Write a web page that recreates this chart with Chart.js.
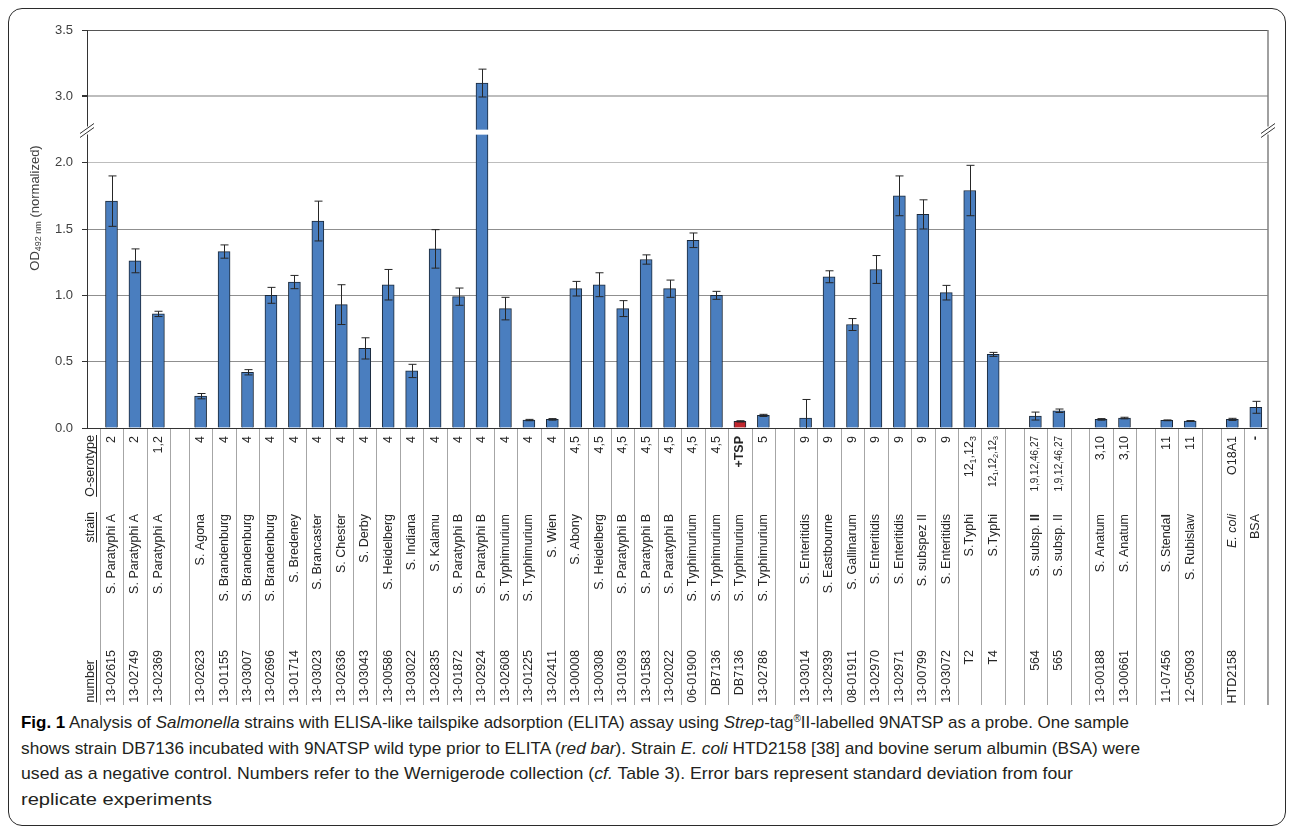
<!DOCTYPE html>
<html>
<head>
<meta charset="utf-8">
<script src="https://cdn.jsdelivr.net/npm/chart.js@4.4.1/dist/chart.umd.min.js"></script>
<style>
body{margin:0;background:#fff;width:1293px;height:831px;position:relative;overflow:hidden}
#frame{position:absolute;left:8px;top:8px;width:1278px;height:818px;border:1.5px solid #2b2b2b;border-radius:14px;box-sizing:border-box}
#chart{position:absolute;left:0;top:0}
.cap{position:absolute;left:21px;white-space:nowrap;font-family:"Liberation Sans Narrow","Liberation Sans",Arial,sans-serif;font-size:17px;line-height:20px;color:#231f20;transform-origin:0 0}
.cap b{color:#000}
.r{font-size:10px;position:relative;top:-6px}
</style>
</head>
<body>

<div id="frame"></div>
<canvas id="chart" width="1293" height="712"></canvas>

<div class="cap" data-w="1108" style="top:713px"><b>Fig. 1</b> Analysis of <i>Salmonella</i> strains with ELISA-like tailspike adsorption (ELITA) assay using <i>Strep</i>-tag<span class="r">®</span>II-labelled 9NATSP as a probe. One sample</div>
<div class="cap" data-w="1119" style="top:739px">shows strain DB7136 incubated with 9NATSP wild type prior to ELITA (<i>red bar</i>). Strain <i>E. coli</i> HTD2158 [38] and bovine serum albumin (BSA) were</div>
<div class="cap" data-w="1052" style="top:764px">used as a negative control. Numbers refer to the Wernigerode collection (<i>cf.</i> Table 3). Error bars represent standard deviation from four</div>
<div class="cap" data-w="191" style="top:790px">replicate experiments</div>

<script>

// strain collection numbers, one per bar
let numbers=["13-02615","13-02749","13-02369",
"13-02623","13-01155","13-03007","13-02696","13-01714","13-03023","13-02636","13-03043","13-00586","13-03022","13-02835","13-01872","13-02924","13-02608","13-01225","13-02411","13-00008","13-00308","13-01093","13-01583","13-02022","06-01900","DB7136","DB7136","13-02786",
"13-03014","13-02939","08-01911","13-02970","13-02971","13-00799","13-03072","T2","T4",
"564","565",
"13-00188","13-00661",
"11-07456","12-05093",
"HTD2158",""];

// * = bold, ~ = italic, _x = subscript
let strains=["S. Paratyphi A","S. Paratyphi A","S. Paratyphi A",
"S. Agona","S. Brandenburg","S. Brandenburg","S. Brandenburg","S. Bredeney","S. Brancaster","S. Chester","S. Derby","S. Heidelberg","S. Indiana","S. Kalamu","S. Paratyphi B","S. Paratyphi B","S. Typhimurium","S. Typhimurium","S. Wien","S. Abony","S. Heidelberg","S. Paratyphi B","S. Paratyphi B","S. Paratyphi B","S. Typhimurium","S. Typhimurium","S. Typhimurium","S. Typhimurium",
"S. Enteritidis","S. Eastbourne","S. Gallinarum","S. Enteritidis","S. Enteritidis","S. subspez II","S. Enteritidis","S.Typhi","S.Typhi",
"S. subsp. *II*","S. subsp. II",
"S. Anatum","S. Anatum",
"S. Stenda*l*","S. Rubislaw",
"~E. coli~","BSA"];

let serotypes=["2","2","1,2",
"4","4","4","4","4","4","4","4","4","4","4","4","4","4","4","4","4,5","4,5","4,5","4,5","4,5","4,5","4,5","*+TSP*","5",
"9","9","9","9","9","9","9","12_1,12_3","12_1,12_2,12_3",
"1,9,12,46,27","1,9,12,46,27",
"3,10","3,10",
"11","11",
"O18A1","*-*"];

// OD492 nm (normalized), mean and standard deviation
let od=[1.71,1.26,0.86,
0.24,1.33,0.42,1.00,1.10,1.56,0.93,0.60,1.08,0.43,1.35,0.99,3.10,0.90,0.06,0.065,1.05,1.08,0.90,1.27,1.05,1.415,1.00,0.05,0.095,
0.075,1.14,0.78,1.195,1.75,1.61,1.02,1.79,0.555,
0.09,0.13,
0.065,0.075,
0.058,0.053,
0.065,0.156];

let sd=[0.19,0.09,0.02,
0.02,0.05,0.02,0.06,0.05,0.15,0.15,0.08,0.115,0.05,0.145,0.065,0.105,0.085,0.005,0.006,0.055,0.09,0.06,0.035,0.065,0.055,0.03,0.005,0.008,
0.14,0.045,0.045,0.105,0.15,0.11,0.055,0.19,0.015,
0.03,0.013,
0.006,0.006,
0.003,0.003,
0.008,0.045];

let groupSizes=[3,25,9,2,2,2,2];

let yTickLabels=["0.0","0.5","1.0","1.5","2.0","3.0","3.5"];

const FONT="'Liberation Sans', Arial, sans-serif";

// the axis skips 2.25..2.75, so values above the break move down by 0.5
function toAxis(v){
return v>2.5 ? v-0.5 : v;
}

// bar slots: one unit per bar, a narrower empty column between groups
let slots=[];
let p=0;
groupSizes.forEach(function(n,g){
if(g>0) p+=0.8;
for(let k=0;k<n;k++){ slots.push(p); p+=1; }
});

let points=od.map(function(v,i){ return {x:slots[i],y:toAxis(v)}; });
let barColors=serotypes.map(function(s){ return s==="*+TSP*" ? "#c1272d" : "#4a7ebf"; });

function drawVertical(ctx,str,x,yEnd,size,align){
let runs=[],bold=false,ital=false;
for(let k=0;k<str.length;k++){
let c=str[k];
if(c==="*"){bold=!bold;continue;}
if(c==="~"){ital=!ital;continue;}
let sub=false;
if(c==="_"){sub=true;k++;c=str[k];}
runs.push({c:c,bold:bold,ital:ital,sub:sub});
}
let font=function(r){
return (r.ital?"italic ":"")+(r.bold?"bold ":"")+(r.sub?size*0.72:size)+"px "+FONT;
};
ctx.save();
ctx.translate(x,yEnd);
ctx.rotate(-Math.PI/2);
ctx.textBaseline="middle";
ctx.textAlign="left";
let w=0;
runs.forEach(function(r){ ctx.font=font(r); r.w=ctx.measureText(r.c).width; w+=r.w; });
let cx=align==="center" ? -w/2 : -w;
runs.forEach(function(r){ ctx.font=font(r); ctx.fillText(r.c,cx,r.sub?size*0.32:0); cx+=r.w; });
ctx.restore();
return w;
}

const extras={
id:"extras",
afterDatasetsDraw(chart){
let ctx=chart.ctx;
let y=chart.scales.y;
let area=chart.chartArea;
let meta=chart.getDatasetMeta(0);

ctx.save();

// break gap across bars that pass it
let gapY=y.getPixelForValue(2.23);
meta.data.forEach(function(bar,i){
if(toAxis(od[i])>2.25){
ctx.fillStyle="#fff";
ctx.fillRect(bar.x-8,gapY-2.5,16,5);
}
});

// error bars (cut at the axis)
ctx.strokeStyle="#262626";
ctx.lineWidth=1;
meta.data.forEach(function(bar,i){
let top=y.getPixelForValue(toAxis(od[i]+sd[i]));
let low=od[i]-sd[i];
let bot=y.getPixelForValue(toAxis(Math.max(low,0)));
let x=Math.round(bar.x)+0.5;
ctx.beginPath();
ctx.moveTo(x,top);ctx.lineTo(x,bot);
ctx.moveTo(x-4,top);ctx.lineTo(x+4,top);
if(low>0){ ctx.moveTo(x-4,bot);ctx.lineTo(x+4,bot); }
ctx.stroke();
});

// right frame of plot + table
ctx.strokeStyle="#808080";
ctx.lineWidth=1.5;
ctx.beginPath();
ctx.moveTo(area.right,area.top);
ctx.lineTo(area.right,705);
ctx.stroke();

// axis break marks on both sides
let by=y.getPixelForValue(2.25);
[area.left,area.right].forEach(function(ax){
ctx.fillStyle="#fff";
ctx.fillRect(ax-3,by-3,6,8);
ctx.strokeStyle="#333";
ctx.lineWidth=1;
ctx.beginPath();
ctx.moveTo(ax-7,by+4);ctx.lineTo(ax+7,by-6);
ctx.moveTo(ax-7,by+8);ctx.lineTo(ax+7,by-2);
ctx.stroke();
});

ctx.restore();
},
afterDraw(chart){
let ctx=chart.ctx;
let x=chart.scales.x;
let meta=chart.getDatasetMeta(0);
let unit=x.getPixelForValue(1)-x.getPixelForValue(0);

ctx.save();

// column separators of the label table
let seps={};
meta.data.forEach(function(bar){
seps[Math.round(bar.x-unit/2)]=1;
seps[Math.round(bar.x+unit/2)]=1;
});
ctx.strokeStyle="#a6a6a6";
ctx.lineWidth=1;
ctx.beginPath();
Object.keys(seps).forEach(function(k){
let sx=Number(k)+0.5;
ctx.moveTo(sx,429);ctx.lineTo(sx,705);
});
ctx.stroke();

// table text
ctx.fillStyle="#262626";
meta.data.forEach(function(bar,i){
let bx=bar.x;
let small=serotypes[i].length>9;
drawVertical(ctx,serotypes[i],bx,436,small?10:12.5);
drawVertical(ctx,strains[i],bx,514,12.5);
drawVertical(ctx,numbers[i],bx,650,12.5);
});

// row headers, underlined
[["O-serotype",435],["strain",512],["number",660]].forEach(function(h){
let w=drawVertical(ctx,h[0],91,h[1],12.5);
ctx.fillRect(96,h[1],1,w);
});

// y axis title with subscript
ctx.save();
ctx.translate(35,208);
ctx.rotate(-Math.PI/2);
ctx.textBaseline="middle";
ctx.textAlign="left";
ctx.fillStyle="#404040";
ctx.font="13px "+FONT;
let w1=ctx.measureText("OD").width;
let w3=ctx.measureText(" (normalized)").width;
ctx.font="9px "+FONT;
let w2=ctx.measureText("492 nm").width;
let sx=-(w1+w2+w3)/2;
ctx.font="13px "+FONT;
ctx.fillText("OD",sx,0);
ctx.font="9px "+FONT;
ctx.fillText("492 nm",sx+w1,4);
ctx.font="13px "+FONT;
ctx.fillText(" (normalized)",sx+w1+w2,0);
ctx.restore();

ctx.restore();
}
};

Chart.defaults.font.family=FONT;

new Chart(document.getElementById("chart"),{
type:"bar",
data:{
datasets:[{
data:points,
backgroundColor:barColors,
borderColor:"#1b2838",
borderWidth:1,
barThickness:12
}]
},
options:{
responsive:false,
devicePixelRatio:1,
animation:false,
layout:{padding:{left:0,right:25,top:30,bottom:284}},
plugins:{legend:{display:false},tooltip:{enabled:false}},
scales:{
x:{
type:"linear",
display:false,
offset:false,
min:slots[0]-1.045,
max:slots[slots.length-1]+0.52
},
y:{
min:0,
max:3,
afterFit:function(scale){ scale.width=87; },
border:{display:true,color:"#333",width:1},
grid:{
tickLength:5,
tickColor:"#333",
color:function(c){
let v=c.tick.value;
if(v===0) return "#333";
if(v===3) return "#555";
if(v===2||v===2.5) return "#bdbdbd";
return "#8f8f8f";
},
lineWidth:function(c){ return c.tick.value===2.5 ? 2 : 1; }
},
ticks:{
stepSize:0.5,
padding:9,
color:"#404040",
font:{size:13},
callback:function(v,i){ return yTickLabels[i]; }
}
}
}
},
plugins:[extras]
});

// squeeze each caption line to the width it has in the figure
document.fonts.ready.then(function(){
document.querySelectorAll(".cap").forEach(function(el){
let w=el.getBoundingClientRect().width;
el.style.transform="scaleX("+(Number(el.dataset.w)/w)+")";
});
});

</script>
</body>
</html>
